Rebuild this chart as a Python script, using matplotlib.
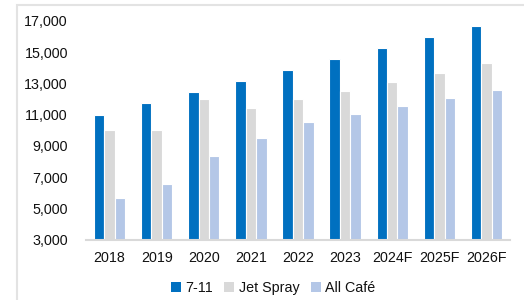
import matplotlib.pyplot as plt
import numpy as np
from matplotlib.patches import Rectangle, Patch

plt.rcParams['font.family'] = ['Liberation Sans Narrow', 'Liberation Sans', 'DejaVu Sans']

years = ["2018", "2019", "2020", "2021", "2022", "2023", "2024F", "2025F", "2026F"]
seven_eleven = [11000, 11750, 12450, 13150, 13850, 14550, 15250, 15950, 16650]
jet_spray = [10000, 10000, 12000, 11400, 12000, 12500, 13100, 13700, 14300]
all_cafe = [5650, 6550, 8350, 9500, 10500, 11050, 11550, 12050, 12600]

series = [("7-11", seven_eleven, "#0070c0"),
          ("Jet Spray", jet_spray, "#d9d9d9"),
          ("All Café", all_cafe, "#b4c7e7")]

fig = plt.figure(figsize=(5.24, 3.0), dpi=100)

# light frame around the chart
fig.patches.append(Rectangle((17 / 524, -0.1), 1.2, 1.1 - 5 / 300, transform=fig.transFigure,
                             fill=False, edgecolor="#e3e3e3", linewidth=1.5))

ax = fig.add_axes([86 / 524, 1 - 239.5 / 300, 424 / 524, (239.5 - 21) / 300])
x = np.arange(len(years))
step = 0.222
for i, (name, vals, color) in enumerate(series):
    ax.bar(x + (i - 1) * step, np.array(vals) - 3000, bottom=3000, width=step,
           color=color, edgecolor="white", linewidth=0.8, label=name)

ax.set_xlim(-0.5, len(years) - 0.5)
ax.set_ylim(3000, 17000)
ax.set_yticks(range(3000, 17001, 2000))
ax.set_yticklabels([f"{v:,}" for v in range(3000, 17001, 2000)])
ax.set_xticks(x)
ax.set_xticklabels(years)
ax.tick_params(length=0, labelsize=10.3, colors="#111111")
ax.tick_params(axis="y", pad=13)
ax.tick_params(axis="x", pad=8)
for s in ["top", "right", "left"]:
    ax.spines[s].set_visible(False)
ax.spines["bottom"].set_color("#d9d9d9")
ax.spines["bottom"].set_linewidth(1.5)

handles = [Patch(facecolor=c, edgecolor="none", label=n) for n, _, c in series]
fig.legend(handles=handles, loc="center", bbox_to_anchor=(273 / 524, 12 / 300), ncol=3,
           frameon=False, fontsize=10.3, handlelength=0.7, handleheight=0.7,
           handletextpad=0.3, columnspacing=0.8, labelcolor="#111111")

fig.savefig("out.png", dpi=100)
